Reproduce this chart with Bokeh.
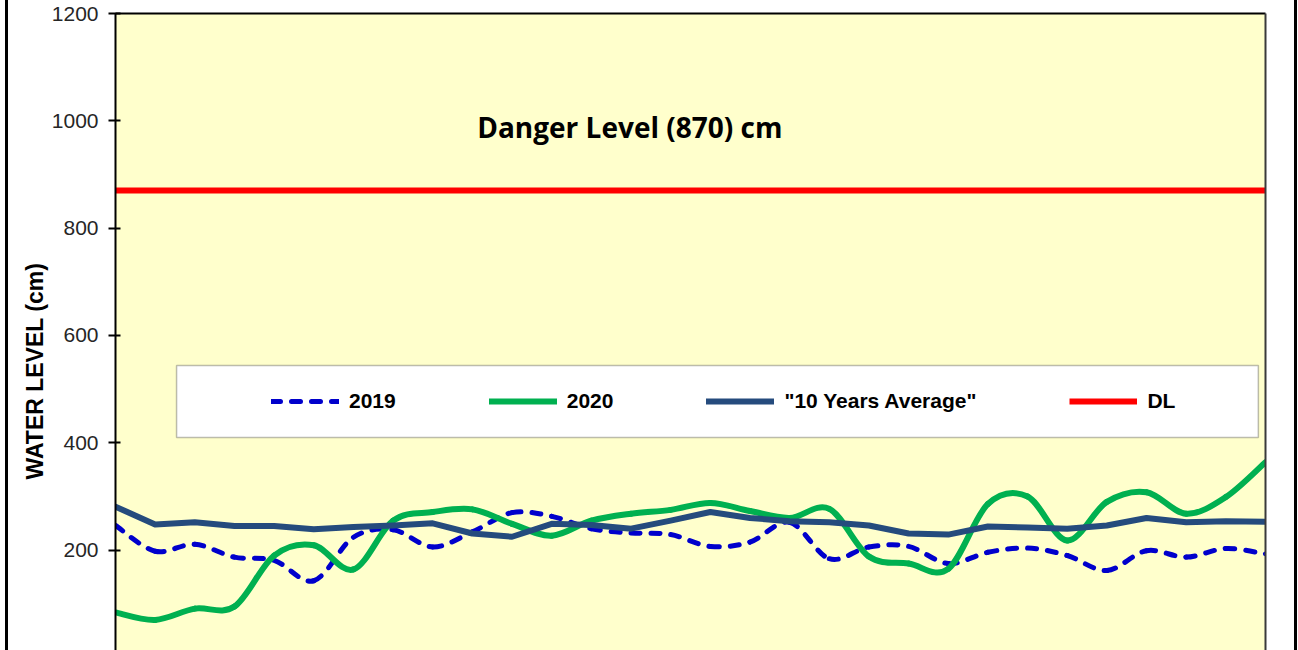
import numpy as np
from bokeh.plotting import figure
from bokeh.layouts import row
from bokeh.models import (ColumnDataSource, Range1d, LinearAxis, FixedTicker, Legend,
                          LegendItem, Label, BoxAnnotation, Title, Div)
from bokeh.embed import file_html
from bokeh.resources import INLINE

# ---------------- data ----------------
days = list(range(1, 31))
level_2019 = [246, 198, 211, 187, 181, 143, 224, 238, 206, 234,
              270, 263, 240, 232, 229, 207, 215, 252, 184, 206,
              207, 175, 196, 204, 190, 162, 199, 187, 203, 193]
level_2020 = [84, 70, 91, 95, 190, 209, 164, 255, 271, 276,
              249, 227, 255, 268, 275, 288, 273, 260, 277, 188,
              175, 165, 286, 300, 218, 290, 308, 268, 299, 364]
avg_10_years = [281, 248, 252, 245, 245, 239, 243, 246, 250, 231,
                225, 249, 247, 240, 255, 271, 260, 254, 252, 246,
                231, 229, 244, 242, 240, 246, 260, 252, 254, 253]
danger_level = 870
dl_line = [danger_level] * len(days)
y_ticks = [0, 200, 400, 600, 800, 1000, 1200]
legend_labels = ["2019", "2020", '"10 Years Average"', "DL"]
y_title = "WATER LEVEL (cm)"
danger_text = "Danger Level (870) cm"

# ---------------- styles ----------------
C2019, C2020, CAVG, CDL = "#0000CC", "#00B050", "#254B7D", "#FF0000"
BG = "#FFFFCC"
W, H = 1286, 650


def smooth_source(xs, ys):
    """Excel-like smoothed line: cubic bezier segments through the data points."""
    x = np.asarray(xs, float)
    y = np.asarray(ys, float)
    n = len(x)
    xp = np.concatenate([[x[0]], x, [x[-1]]])
    yp = np.concatenate([[y[0]], y, [y[-1]]])
    return ColumnDataSource(dict(
        x0=xp[1:n], y0=yp[1:n], x1=xp[2:n + 1], y1=yp[2:n + 1],
        cx0=xp[1:n] + (xp[2:n + 1] - xp[0:n - 1]) / 6.0,
        cy0=yp[1:n] + (yp[2:n + 1] - yp[0:n - 1]) / 6.0,
        cx1=xp[2:n + 1] - (xp[3:n + 2] - xp[1:n]) / 6.0,
        cy1=yp[2:n + 1] - (yp[3:n + 2] - yp[1:n]) / 6.0,
    ))


def bare_axis(color=None, width=2):
    return LinearAxis(ticker=FixedTicker(ticks=[]), axis_line_color=color, axis_line_width=width,
                      major_tick_in=0, major_tick_out=0, minor_tick_in=0, minor_tick_out=0,
                      major_tick_line_color=None, minor_tick_line_color=None,
                      major_label_standoff=0, major_label_text_font_size="0px")


p = figure(width=W, height=H, x_range=Range1d(days[0], days[-1]), y_range=Range1d(13, 1200),
           x_axis_location=None, output_backend="svg", toolbar_location=None,
           min_border_left=107, min_border_right=29, min_border_top=13, min_border_bottom=0)
p.background_fill_color = BG
p.border_fill_color = "white"
p.outline_line_color = None
p.xgrid.visible = False
p.ygrid.visible = False

ax = p.yaxis[0]
ax.ticker = FixedTicker(ticks=y_ticks)
ax.axis_line_color = "black"
ax.axis_line_width = 2
ax.major_tick_line_color = "black"
ax.major_tick_line_width = 2
ax.major_tick_in = 5
ax.major_tick_out = 7
ax.minor_tick_line_color = None
ax.major_label_standoff = 10
ax.major_label_text_font = "Liberation Sans"
ax.major_label_text_font_size = "21px"
ax.major_label_text_color = "#262626"

# y-axis title
p.add_layout(Title(text=y_title, align="left", offset=171, vertical_align="middle", standoff=0,
                   text_font="Liberation Sans", text_font_style="bold",
                   text_font_size="23px", text_color="black"), "left")

# top and right plot-area borders
p.add_layout(bare_axis("black", 2), "above")
p.add_layout(bare_axis("#3a3a3a", 2), "right")

# series
r19 = p.bezier(x0="x0", y0="y0", x1="x1", y1="y1", cx0="cx0", cy0="cy0", cx1="cx1", cy1="cy1",
               source=smooth_source(days, level_2019), line_color=C2019, line_width=5,
               line_dash="9 11", line_cap="round")
r20 = p.bezier(x0="x0", y0="y0", x1="x1", y1="y1", cx0="cx0", cy0="cy0", cx1="cx1", cy1="cy1",
               source=smooth_source(days, level_2020), line_color=C2020, line_width=6,
               line_cap="round")
ravg = p.line(days, avg_10_years, line_color=CAVG, line_width=6, line_join="round", line_cap="round")
rdl = p.line(days, dl_line, line_color=CDL, line_width=6)

# legend frame + legend
p.add_layout(BoxAnnotation(left=2.54, right=29.82, bottom=410, top=544.3,
                           fill_color="white", fill_alpha=1.0,
                           line_color="#222222", line_width=1.5))
legend = Legend(items=[LegendItem(label=l, renderers=[r]) for l, r in
                       zip(legend_labels, [r19, r20, ravg, rdl])],
                orientation="horizontal", location=(156, 235), padding=0, margin=0,
                spacing=93, glyph_width=68, glyph_height=28, label_height=28,
                label_standoff=10, border_line_color=None, background_fill_alpha=0,
                label_text_font="Liberation Sans",
                label_text_font_style="bold", label_text_font_size="21px",
                label_text_color="black")
p.add_layout(legend, "center")

# danger level text
p.add_layout(Label(x=13.97, y=989.4, text=danger_text, text_align="center",
                   text_baseline="alphabetic", text_font="Open Sans", text_font_style="bold",
                   text_font_size="28px", text_color="black"))

# outer chart frame: black edge bars left and right of the figure
pad = Div(text="", width=5, height=H, margin=0)
bar_l = Div(text="", width=3, height=H, margin=0, styles={"background-color": "black"})
bar_r = Div(text="", width=3, height=H, margin=0, styles={"background-color": "black"})
layout = row(pad, bar_l, p, bar_r, spacing=0)

open("out.html", "w").write(file_html(layout, INLINE))
